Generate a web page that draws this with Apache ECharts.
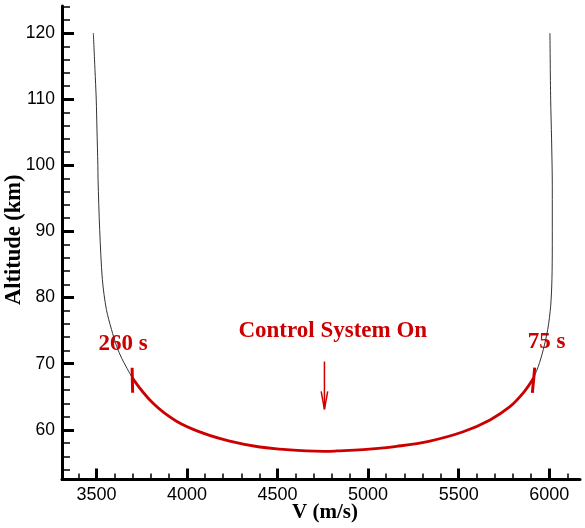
<!DOCTYPE html>
<html>
<head>
<meta charset="utf-8">
<script src="https://cdn.jsdelivr.net/npm/echarts@6/dist/echarts.min.js"></script>
<style>
html,body{margin:0;padding:0;background:#fff;}
#chart{width:585px;height:528px;}
</style>
</head>
<body>
<div id="chart"></div>
<script>
// ---- data ----
const xTickLabels = [3500, 4000, 4500, 5000, 5500, 6000];
const xMinorTicks = [3400,3500,3600,3700,3800,3900,4000,4100,4200,4300,4400,4500,4600,4700,4800,4900,5000,5100,5200,5300,5400,5500,5600,5700,5800,5900,6000,6100];
const yTickLabels = [60, 70, 80, 90, 100, 110, 120];
const yMinorTicks = [54,56,58,60,62,64,66,68,70,72,74,76,78,80,82,84,86,88,90,92,94,96,98,100,102,104,106,108,110,112,114,116,118,120,122,124];

// left (late) uncontrolled part of trajectory
const leftV   = [3483, 3492, 3499, 3503, 3508, 3509, 3518, 3533, 3555, 3583, 3612, 3640, 3665, 3697];
const leftAlt = [120, 114.5, 110, 105.5, 100, 97.9, 90.3, 82.7, 78.2, 75.2, 72.6, 70.8, 69.5, 67.9];
// controlled part (red)
const ctrlV   = [3697, 3813, 3942, 4089, 4236, 4402, 4550, 4660, 4760, 4826, 4973, 5157, 5341, 5525, 5673, 5783, 5857, 5913];
const ctrlAlt = [67.9, 64.0, 61.3, 59.5, 58.3, 57.4, 57.0, 56.8, 56.75, 56.8, 57.0, 57.5, 58.3, 59.7, 61.5, 63.5, 65.6, 67.8];
// right (early) uncontrolled part
const rightV   = [5913, 5940, 5967, 5992, 6008, 6015, 6017, 6017, 6013, 6008, 6004];
const rightAlt = [67.8, 69.6, 72.1, 75.2, 78.7, 82.7, 88, 97, 104, 110, 120];

// time marks
const mark260V = [3697, 3700];   const mark260Alt = [69.4, 65.6];
const mark75V  = [5920, 5907];   const mark75Alt  = [69.4, 65.6];
// arrow "Control System On"
const arrowV = [4759, 4759];     const arrowAlt = [70.35, 63.1];
const arrowHeadV = [4741, 4759, 4777]; const arrowHeadAlt = [65.8, 63.1, 65.8];
// annotation texts
const annText = ['260 s', '75 s', 'Control System On'];
const annV    = [3648, 5986, 4805];
const annAlt  = [72.9, 73.2, 74.95];

const zip = (a, b) => a.map((v, i) => [v, b[i]]);
const RED = '#cc0000';

const chart = echarts.init(document.getElementById('chart'), null, {renderer: 'canvas'});
const xBase = {min: 3310, max: 6170, type: 'value', gridIndex: 0, position: 'bottom'};
const yBase = {min: 52.5, max: 124.1, type: 'value', gridIndex: 0, position: 'left'};

chart.setOption({
  animation: false,
  backgroundColor: '#ffffff',
  grid: {left: 62, top: 6, width: 518, height: 473.4, containLabel: false, outerBoundsMode: 'none'},
  xAxis: [
    Object.assign({}, xBase, {
      name: 'V (m/s)', nameLocation: 'middle', nameGap: 33, nameMoveOverlap: false,
      nameTextStyle: {fontFamily: 'Liberation Serif', fontWeight: 'bold', fontSize: 21, color: '#000', verticalAlign: 'middle', padding: [0, 0, 0, 8]},
      axisLine: {show: true, onZero: false, lineStyle: {color: '#000', width: 3}},
      axisTick: {show: true, inside: true, length: 11, lineStyle: {color: '#000', width: 3}, customValues: xTickLabels},
      axisLabel: {show: true, margin: 7, fontFamily: 'Liberation Sans', fontSize: 18, color: '#000', customValues: xTickLabels, formatter: v => String(v)},
      splitLine: {show: false}
    }),
    Object.assign({}, xBase, {
      axisLine: {show: false, onZero: false},
      axisTick: {show: true, inside: true, length: 6, lineStyle: {color: '#000', width: 1.5}, customValues: xMinorTicks},
      axisLabel: {show: false},
      splitLine: {show: false}
    })
  ],
  yAxis: [
    Object.assign({}, yBase, {
      name: 'Altitude (km)', nameLocation: 'middle', nameGap: 48, nameRotate: 90, nameMoveOverlap: false,
      nameTextStyle: {fontFamily: 'Liberation Serif', fontWeight: 'bold', fontSize: 22.5, color: '#000', verticalAlign: 'middle', padding: [0, 0, 0, 6]},
      axisLine: {show: true, onZero: false, lineStyle: {color: '#000', width: 3}},
      axisTick: {show: true, inside: true, length: 12, lineStyle: {color: '#000', width: 3}, customValues: yTickLabels},
      axisLabel: {show: true, margin: 7, fontFamily: 'Liberation Sans', fontSize: 17.5, color: '#000', customValues: yTickLabels, formatter: v => String(v)},
      splitLine: {show: false}
    }),
    Object.assign({}, yBase, {
      axisLine: {show: false, onZero: false},
      axisTick: {show: true, inside: true, length: 8, lineStyle: {color: '#000', width: 1.5}, customValues: yMinorTicks},
      axisLabel: {show: false},
      splitLine: {show: false}
    })
  ],
  series: [
    {type: 'line', data: zip(leftV, leftAlt), smooth: 0.3, symbol: 'none', lineStyle: {color: '#333', width: 1}},
    {type: 'line', data: zip(rightV, rightAlt), smooth: 0.3, symbol: 'none', lineStyle: {color: '#333', width: 1}},
    {type: 'line', data: zip(ctrlV, ctrlAlt), smooth: 0.4, symbol: 'none', lineStyle: {color: RED, width: 2.8}},
    {type: 'line', data: zip(mark260V, mark260Alt), symbol: 'none', lineStyle: {color: RED, width: 3}},
    {type: 'line', data: zip(mark75V, mark75Alt), symbol: 'none', lineStyle: {color: RED, width: 3}},
    {type: 'line', data: zip(arrowV, arrowAlt), symbol: 'none', lineStyle: {color: RED, width: 1.5}},
    {type: 'line', data: zip(arrowHeadV, arrowHeadAlt), symbol: 'none', lineStyle: {color: RED, width: 1.5}},
    {type: 'scatter', symbolSize: 0, silent: true, itemStyle: {opacity: 1},
      data: annText.map((t, i) => ({value: [annV[i], annAlt[i]], name: t})),
      label: {show: true, position: 'inside', formatter: p => p.name, color: RED, opacity: 1,
        fontFamily: 'Liberation Serif', fontWeight: 'bold', fontSize: 23, align: 'center', verticalAlign: 'middle'}
    }
  ]
});
</script>
</body>
</html>
